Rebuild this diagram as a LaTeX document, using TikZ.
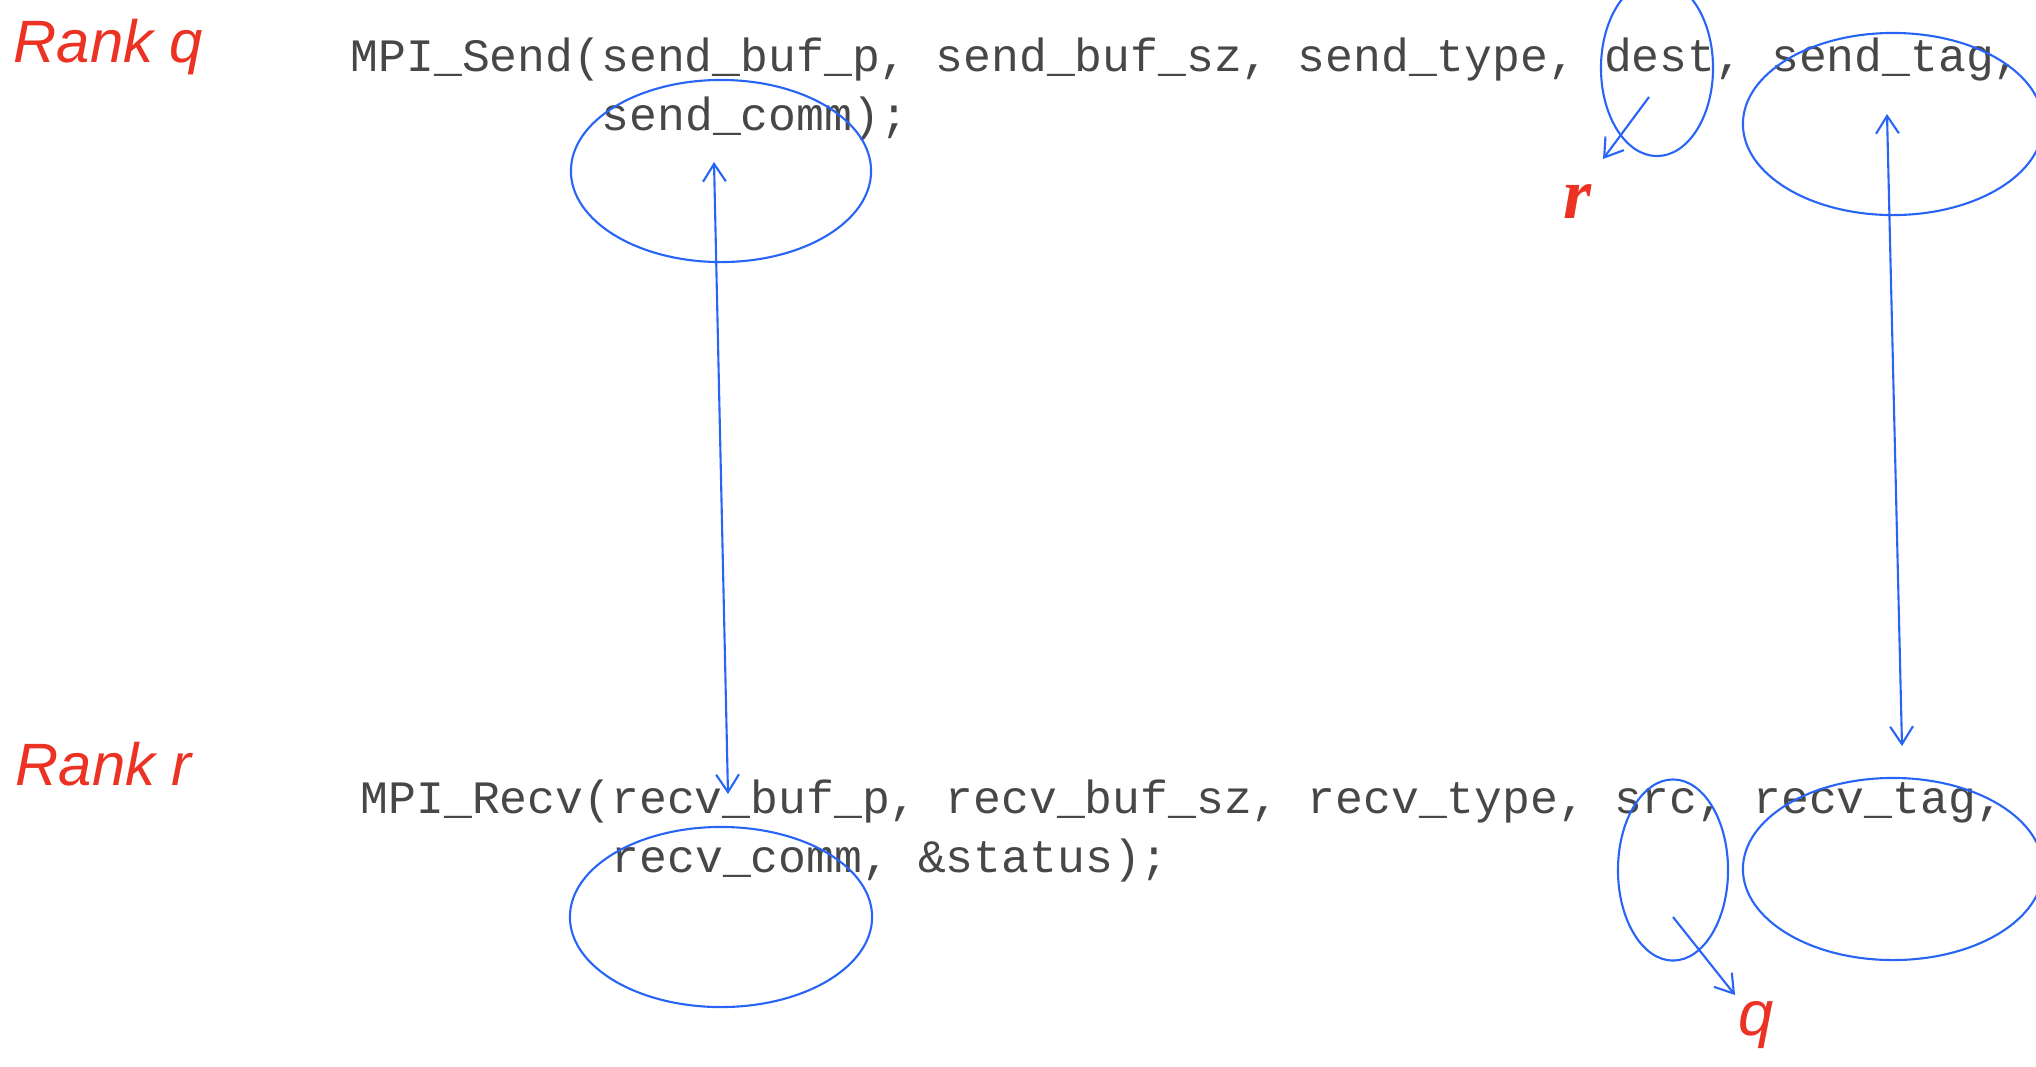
\documentclass[tikz,border=0pt]{standalone}
\usepackage{fontspec}
\setmonofont{Liberation Mono}
\newfontfamily\rankfont{Liberation Sans}
\newfontfamily\labelfont{Liberation Serif}
\usetikzlibrary{arrows.meta,shapes.geometric}
\definecolor{penblue}{RGB}{40,100,245}
\definecolor{penred}{RGB}{235,50,35}
\begin{document}
\begin{tikzpicture}[x=0.01cm,y=-0.01cm,
  code/.style={anchor=base west,inner sep=0pt,text=black!72,font=\ttfamily\fontsize{13.2}{15}\selectfont},
  rank/.style={anchor=base west,inner sep=0pt,text=penred,font=\rankfont\itshape\fontsize{17}{20}\selectfont},
  oval/.style={draw=penblue,ellipse,inner sep=0pt,line width=0.6pt},
  pen/.style={penblue,line width=0.6pt},
  >={Straight Barb[length=5pt,width=6.5pt]}]
\clip (0,0) rectangle (2036,1066);
% sender side
\node[rank] (rankq) at (13,62) {Rank q};
\node[code] (sendl1) at (350,71) {MPI\_Send(send\_buf\_p, send\_buf\_sz, send\_type, dest, send\_tag,};
\node[code] (sendl2) at (601,130) {send\_comm);};
\node[oval,minimum width=3cm,minimum height=1.82cm] (commq) at (721,171) {};
\node[oval,minimum width=1.12cm,minimum height=1.76cm] (destq) at (1657,68) {};
\node[oval,minimum width=3cm,minimum height=1.82cm] (tagq) at (1893,124) {};
\node[anchor=base west,inner sep=0pt,text=penred,font=\labelfont\bfseries\itshape\fontsize{20.5}{24}\selectfont] (destval) at (1563,218) {r};
% receiver side
\node[rank] (rankr) at (15,785) {Rank r};
\node[code] (recvl1) at (360,813) {MPI\_Recv(recv\_buf\_p, recv\_buf\_sz, recv\_type, src, recv\_tag,};
\node[code] (recvl2) at (611,872) {recv\_comm, \&status);};
\node[oval,minimum width=3.02cm,minimum height=1.8cm] (commr) at (721,917) {};
\node[oval,minimum width=1.1cm,minimum height=1.81cm] (srcr) at (1673,870) {};
\node[oval,minimum width=3cm,minimum height=1.82cm] (tagr) at (1893,869) {};
\node[anchor=base west,inner sep=0pt,text=penred,font=\rankfont\itshape\fontsize{18}{22}\selectfont] (srcval) at (1738,1035) {q};
% arrow ends
\coordinate (commqend) at (714,162);
\coordinate (bufrend) at (728,794);
\coordinate (tagqend) at (1887,114);
\coordinate (tagrend) at (1902,746);
\coordinate (destfrom) at (1649,97);
\coordinate (destto) at (1603,159);
\coordinate (srcfrom) at (1673,917);
\coordinate (srcto) at (1735,995);
\draw[pen,<->] (commqend) -- (bufrend);
\draw[pen,<->] (tagqend) -- (tagrend);
\draw[pen,->] (destfrom) -- (destto);
\draw[pen,->] (srcfrom) -- (srcto);
\end{tikzpicture}
\end{document}
